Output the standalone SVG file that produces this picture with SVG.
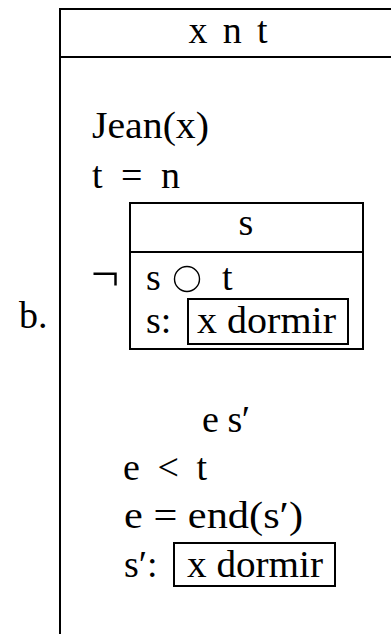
<svg xmlns="http://www.w3.org/2000/svg" width="391" height="634" viewBox="0 0 391 634">
<style>
text{font-family:"Liberation Serif","DejaVu Serif",serif;font-size:38px;fill:#000}
.b{fill:none;stroke:#000;stroke-width:2}
</style>
<rect width="391" height="634" fill="#fff"/>
<g id="label"><text x="19" y="328">b.</text></g>
<g id="outer">
<path class="b" d="M60,634 V9 H392 M60,57 H392"/>
<text x="228" y="43" text-anchor="middle" textLength="79" lengthAdjust="spacing">x n t</text>
<text x="92" y="138" textLength="117" lengthAdjust="spacingAndGlyphs">Jean(x)</text>
<text x="92" y="188" textLength="88" lengthAdjust="spacing">t = n</text>
</g>
<g id="neg"><text x="91" y="291" style="font-size:50px">¬</text></g>
<g id="inner">
<rect class="b" x="130" y="203" width="233" height="146"/>
<line class="b" x1="130" y1="252" x2="363" y2="252"/>
<text x="246" y="235" text-anchor="middle">s</text>
<text x="146" y="290">s</text>
<circle cx="187" cy="279" r="12.5" fill="none" stroke="#000" stroke-width="1.4"/>
<text x="222" y="290">t</text>
<text x="146" y="333">s:</text>
<rect class="b" x="188" y="299" width="160" height="45"/>
<text x="197" y="333" textLength="139" lengthAdjust="spacingAndGlyphs">x dormir</text>
</g>
<g id="sub">
<text x="202" y="432" textLength="48" lengthAdjust="spacing">e s′</text>
<text x="123" y="480" textLength="84" lengthAdjust="spacing">e &lt; t</text>
<text x="124" y="528" textLength="179" lengthAdjust="spacingAndGlyphs">e = end(s′)</text>
<text x="124" y="577">s′:</text>
<rect class="b" x="174" y="543" width="161" height="43"/>
<text x="187" y="577" textLength="136" lengthAdjust="spacingAndGlyphs">x dormir</text>
</g>
</svg>
